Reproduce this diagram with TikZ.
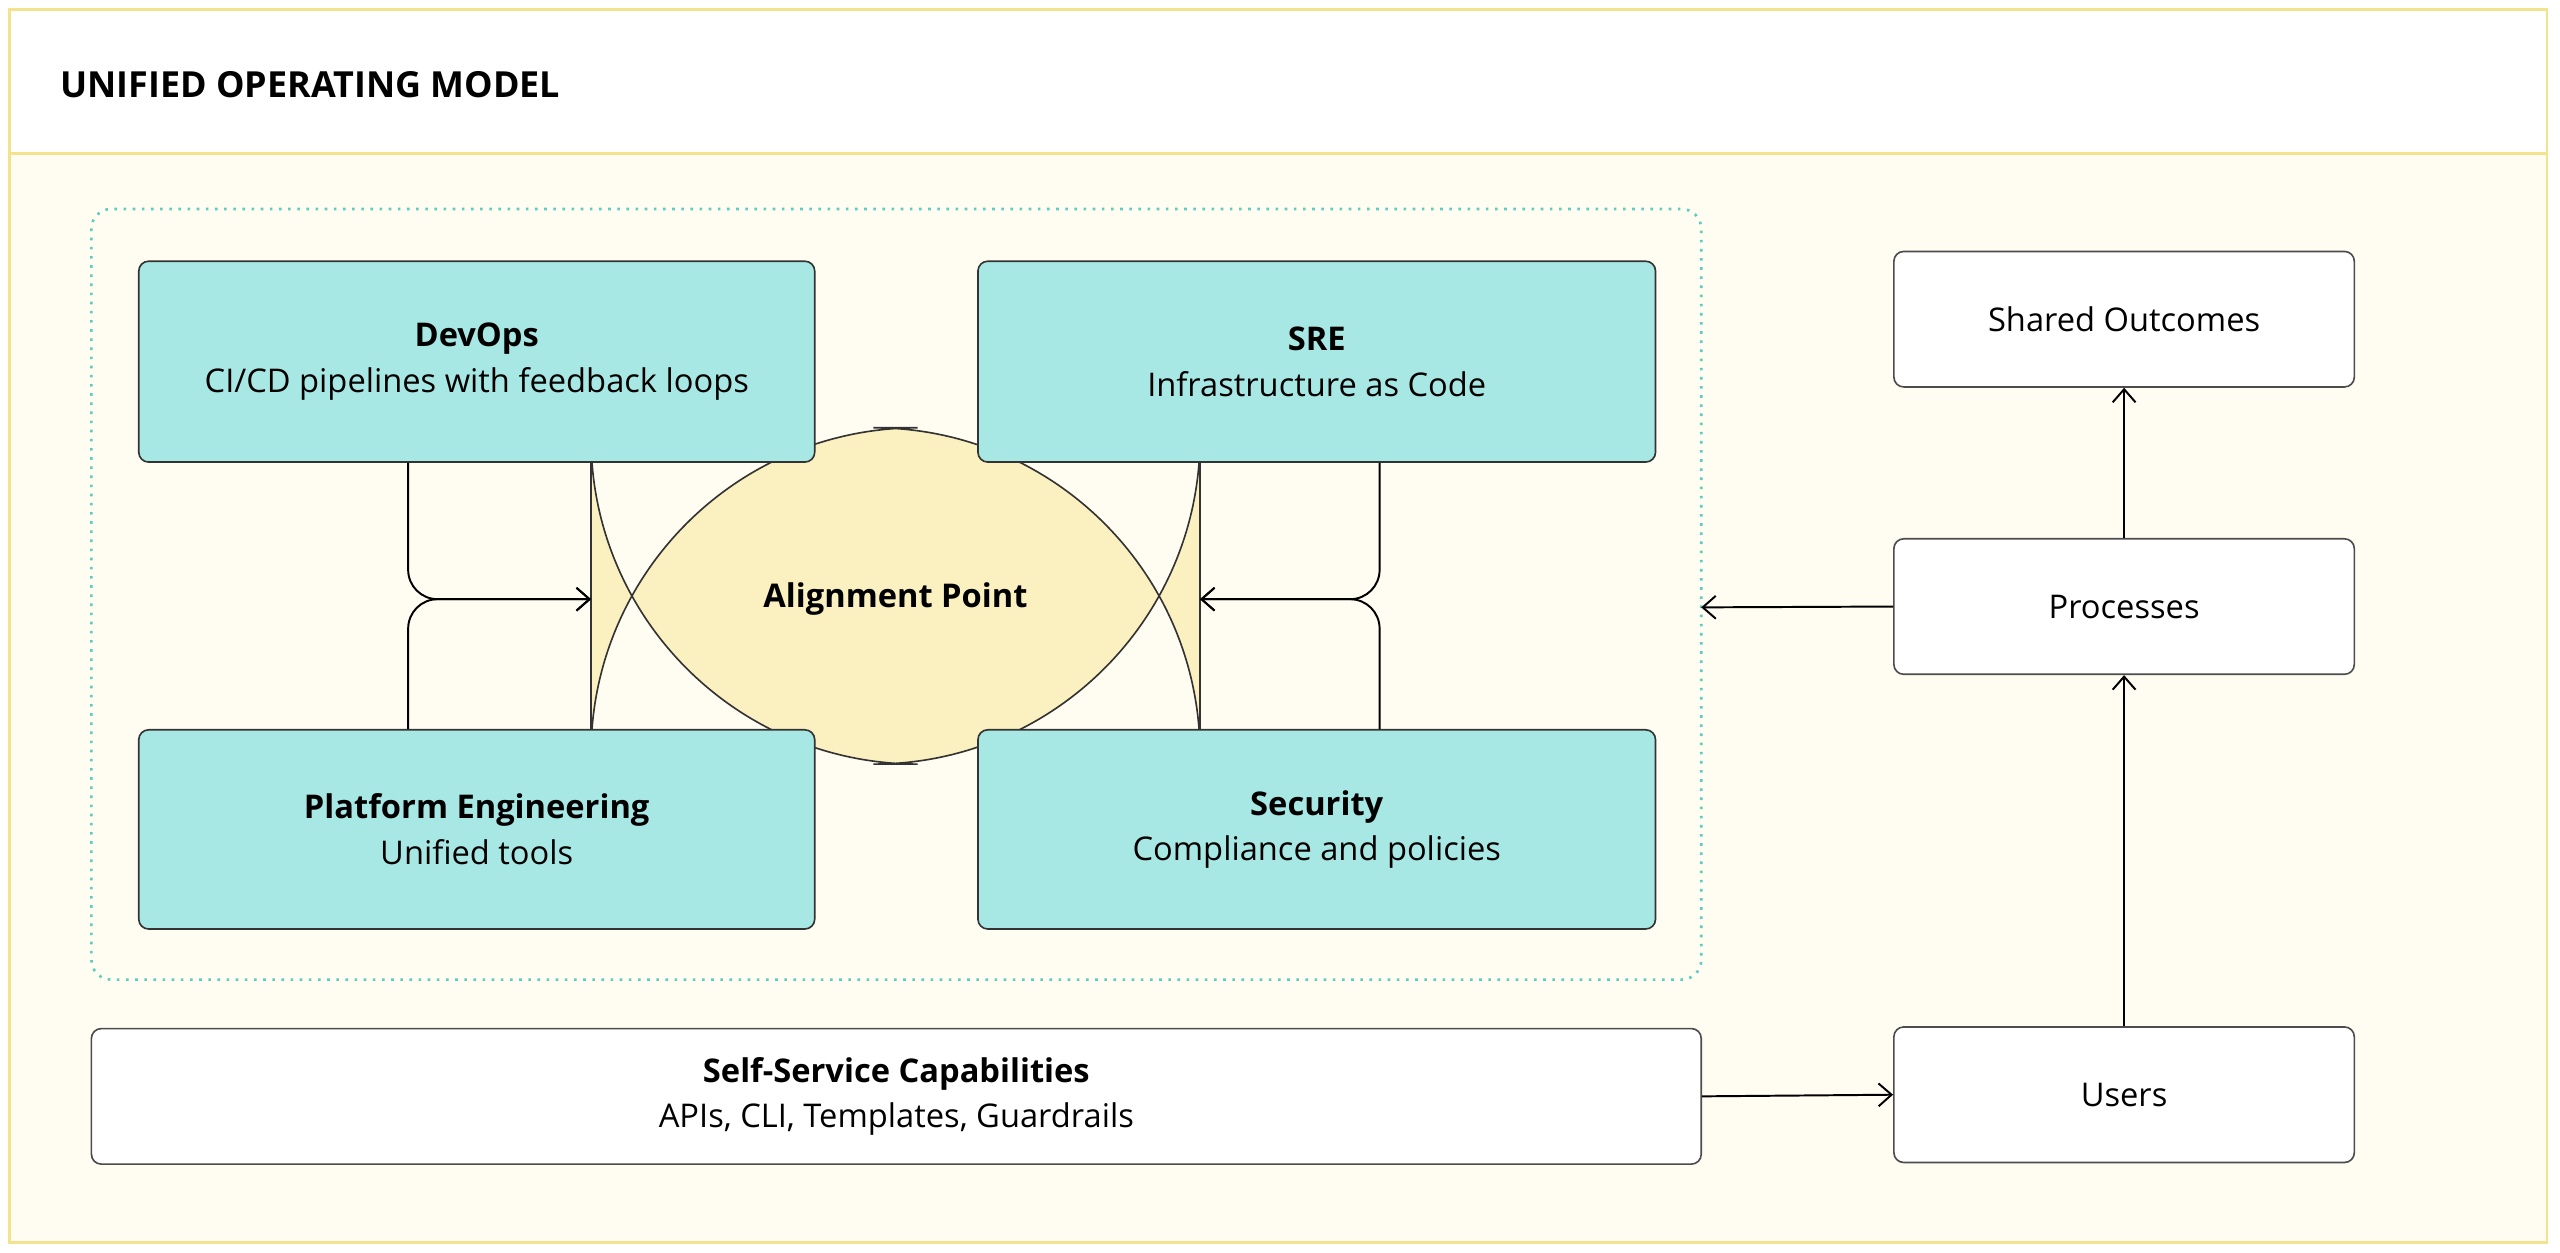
\documentclass[tikz,border=0pt]{standalone}
\usepackage{fontspec}
\setmainfont{Open Sans}
\usetikzlibrary{arrows.meta}
\definecolor{frameY}{HTML}{F3E38C}
\definecolor{cream}{HTML}{FFFDF2}
\definecolor{teal}{HTML}{A8E8E4}
\definecolor{tealline}{HTML}{5CCDBE}
\definecolor{alignY}{HTML}{FAF0C0}
\begin{document}
\begin{tikzpicture}[x=0.5pt,y=-0.5pt,
  tbox/.style={draw=black!80,fill=teal,rounded corners=3pt,line width=0.5pt,align=center,font=\fontsize{10}{14}\selectfont},
  wbox/.style={draw=black!70,fill=white,rounded corners=3pt,line width=0.5pt,align=center,font=\fontsize{10}{14}\selectfont},
  arr/.style={-{Straight Barb[length=4pt,width=7pt]},line width=0.6pt,black}]
\useasboundingbox (0,0) rectangle (1568,767);
\fill[white] (0,0) rectangle (1568,767);
\draw[frameY,fill=cream,line width=0.8pt] (6,6) rectangle (1560,761);
\draw[frameY,fill=white,line width=0.8pt] (6,6) rectangle (1560,94);
\node[anchor=west,font=\fontsize{11}{13}\selectfont\bfseries] (title) at (30,52) {UNIFIED OPERATING MODEL};
\draw[tealline,dotted,line width=0.8pt,rounded corners=6pt] (56,128) rectangle (1042,600);
\coordinate (grpE) at (1042,372);
\draw[black!80,fill=alignY,line width=0.5pt,rounded corners=100pt] (362,262) rectangle (735,468);
\node[font=\fontsize{10}{14}\selectfont\bfseries] (align) at (548.5,367) {Alignment Point};
\coordinate (alW) at (362,367);
\coordinate (alE) at (735,367);
\node[tbox,minimum width=207pt,minimum height=61.5pt] (devops) at (292,221.5) {\textbf{DevOps}\\CI/CD pipelines with feedback loops};
\node[tbox,minimum width=207.5pt,minimum height=61.5pt] (sre) at (806.5,221.5) {\textbf{SRE}\\Infrastructure as Code};
\node[tbox,minimum width=207pt,minimum height=61pt] (plat) at (292,508) {\textbf{Platform Engineering}\\Unified tools};
\node[tbox,minimum width=207.5pt,minimum height=61pt] (sec) at (806.5,508) {\textbf{Security}\\Compliance and policies};
\node[wbox,minimum width=141pt,minimum height=41.5pt] (shared) at (1301,195.5) {Shared Outcomes};
\node[wbox,minimum width=141pt,minimum height=41.5pt] (proc) at (1301,371.5) {Processes};
\node[wbox,minimum width=141pt,minimum height=41.5pt] (users) at (1301,670.5) {Users};
\node[wbox,minimum width=493pt,minimum height=41.5pt] (self) at (549,671.5) {\textbf{Self-Service Capabilities}\\APIs, CLI, Templates, Guardrails};
\draw[arr,rounded corners=9pt] (devops.south -| 250,0) |- (alW);
\draw[arr,rounded corners=9pt] (plat.north -| 250,0) |- (alW);
\draw[arr,rounded corners=9pt] (sre.south -| 845,0) |- (alE);
\draw[arr,rounded corners=9pt] (sec.north -| 845,0) |- (alE);
\draw[arr] (proc.west) -- (grpE);
\draw[arr] (proc.north) -- (shared.south);
\draw[arr] (users.north) -- (proc.south);
\draw[arr] (self.east) -- (users.west);
\end{tikzpicture}
\end{document}
